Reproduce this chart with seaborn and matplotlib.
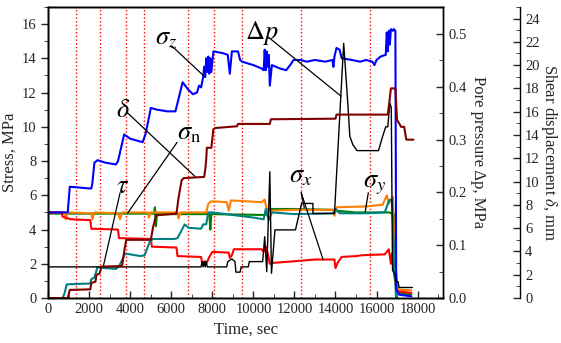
import matplotlib
matplotlib.use('Agg')
import matplotlib.pyplot as plt
import seaborn as sns
import pandas as pd
from matplotlib.ticker import MultipleLocator

# --- data (time in sec) ---
t_sz = [0, 950, 1050, 2000, 2100, 2150, 2250, 2400, 2800, 3300, 3400, 3700, 4000, 4600, 4750, 5000, 5300, 5800,
        6200, 6550, 6800, 7050, 7250, 7350, 7450, 7550, 7600, 7650, 7700, 7750, 7800, 7850, 7900, 7950, 8050, 8500,
        8750, 8850, 8950, 9250, 9350, 9450, 10000, 10400, 10500, 10550, 10600, 10650, 10700, 10750, 10800, 10900,
        11300, 11600, 11850, 11950, 12300, 12600, 13000, 13500, 13850, 13900, 13950, 14050, 14200, 14300, 14800,
        15200, 15500, 15800, 15900, 16000, 16200, 16450, 16500, 16550, 16600, 16650, 16700, 16800, 16850, 16920,
        16960, 17100, 17700]
sz = [5.0, 5.0, 6.5, 6.4, 6.4, 6.7, 7.9, 8.05, 7.9, 7.8, 8.0, 9.55, 9.3, 9.1, 9.6, 11.1, 11.0, 10.9,
      10.9, 12.6, 12.2, 11.9, 12.0, 12.4, 12.3, 12.9, 13.5, 12.9, 14.0, 13.2, 14.1, 13.1, 14.0, 13.2, 14.4, 14.3,
      14.2, 13.1, 14.4, 14.4, 13.9, 13.8, 13.6, 13.4, 13.3, 14.5, 13.3, 14.4, 13.5, 14.2, 12.4, 13.6,
      13.4, 13.3, 13.7, 13.9, 13.9, 13.8, 13.9, 13.8, 13.9, 13.5, 14.1, 14.6, 14.5, 14.0, 13.9,
      13.8, 13.9, 13.8, 13.6, 13.9, 14.1, 14.2, 15.5, 14.4, 15.6, 14.8, 15.7, 15.6, 15.7, 15.6,
      0.5, 0.2, 0.1]

t_sx = [0, 650, 700, 1100, 2050, 2100, 3400, 3450, 5000, 5050, 6250, 6300, 7450, 7500, 7650, 7700, 7850, 8000,
        8800, 8850, 8950, 9050, 10400, 10500, 10600, 10700, 10800, 10900, 12000, 13000, 13950, 14000, 14100,
        14300, 15000, 15300, 16400, 16600, 16700, 16750, 16900, 17000, 17700]
sx = [5.0, 5.0, 4.75, 4.6, 4.55, 4.05, 4.0, 3.5, 3.45, 3.0, 2.95, 2.45, 2.4, 2.05, 2.15, 2.0, 2.4, 2.7,
      2.65, 2.35, 2.5, 2.85, 2.85, 2.7, 3.0, 2.6, 2.0, 2.05, 2.15, 2.25, 2.25, 1.75, 2.05,
      2.4, 2.45, 2.5, 2.55, 2.85, 2.0, 2.6, 1.0, 0.4, 0.3]

t_sy = [0, 800, 850, 950, 2100, 2150, 2250, 3400, 3500, 3600, 4850, 4900, 5000, 6300, 6350, 6450, 7700, 7800,
        7950, 8700, 8800, 8900, 10400, 10550, 10650, 10800, 12000, 13900, 13950, 14050, 15500, 16300, 16500,
        16600, 16800, 16900, 17000, 17700]
sy = [5.0, 5.0, 4.6, 5.0, 4.95, 4.6, 5.0, 4.95, 4.6, 5.0, 5.0, 4.7, 5.0, 5.0, 4.65, 5.0, 5.0, 5.5,
      5.65, 5.6, 5.1, 5.7, 5.6, 5.75, 5.15, 5.1, 5.15, 5.15, 4.8, 5.3, 5.35, 5.45, 6.0,
      5.5, 5.9, 2.0, 0.5, 0.45]

t_sn = [0, 5150, 5200, 5250, 5300, 7850, 7900, 7950, 10600, 10700, 12000, 13900, 14000, 15000, 16600, 16850,
        16950, 17050, 17700]
sn = [4.93, 4.93, 5.3, 4.2, 4.9, 4.9, 4.0, 4.9, 4.85, 5.2, 5.2, 5.15, 5.1, 5.0, 5.0, 4.9, 1.5, 0.3, 0.2]

t_tau = [0, 700, 800, 900, 2050, 2100, 2250, 2400, 2800, 3300, 3450, 3750, 4000, 4500, 4700, 4950, 5100, 6150,
         6300, 6650, 6850, 7450, 7550, 7700, 7800, 8000, 9000, 10000, 10500, 10600, 10750, 10900, 12000, 13900,
         14000, 14200, 15500, 16400, 16550, 16650, 16750, 16850, 16950, 17000]
tau = [0.0, 0.0, 0.3, 0.8, 0.85, 1.1, 1.2, 1.8, 1.75, 1.7, 1.85, 2.6, 2.55, 2.45, 2.5, 3.3, 3.45, 3.45,
       3.5, 4.3, 4.1, 4.05, 4.3, 4.3, 5.0, 5.0, 4.85, 4.7, 4.6, 5.2, 4.55, 5.0, 4.9, 4.95,
       5.2, 4.95, 4.95, 5.0, 5.5, 5.75, 5.7, 3.0, 0.0, 0.0]

t_dp = [0, 7450, 7500, 7550, 7600, 7650, 7700, 7750, 8700, 8750, 8950, 9100, 9150, 9350, 9400, 9750, 9800,
        10450, 10550, 10650, 10800, 10880, 11050, 12050, 12350, 12900, 12900, 13950, 14400, 14600, 14700, 14850,
        15050, 16100, 16200, 16300, 16450, 16550, 16650, 16720, 16780, 16900, 16950, 17050, 17100, 17750]
dp = [0.059, 0.059, 0.069, 0.059, 0.069, 0.059, 0.069, 0.059, 0.059, 0.069, 0.074, 0.069, 0.049, 0.049, 0.059,
      0.059, 0.069, 0.069, 0.116, 0.05, 0.239, 0.047, 0.129, 0.129, 0.179, 0.179, 0.16, 0.16, 0.482, 0.369,
      0.306, 0.29, 0.279, 0.279, 0.293, 0.306, 0.324, 0.324, 0.369, 0.36, 0.053, 0.044, 0.031, 0.031, 0.02, 0.02]

t_del = [0, 950, 1050, 2050, 2100, 2300, 2350, 2500, 2600, 3600, 3700, 3800, 5000, 5100, 5250, 6250, 6350,
         6500, 6600, 7600, 7650, 7700, 7730, 7950, 8050, 8150, 9200, 9250, 10800, 10850, 14000, 14050, 16550,
         16650, 16700, 16920, 17000, 17200, 17350, 17450, 17800]
delta = [0, 0, 0.7, 0.75, 1.3, 1.4, 2.0, 2.1, 2.7, 2.75, 4.0, 5.0, 5.0, 6.0, 7.1, 7.25, 8.6,
         10.1, 10.3, 10.4, 11.0, 11.9, 12.9, 12.9, 14.5, 14.6, 14.75, 14.95, 14.95, 15.35, 15.4, 15.75, 15.75,
         17.2, 18.0, 18.0, 15.3, 14.7, 14.7, 13.6, 13.6]

stage_times = [0, 1350, 2520, 3790, 4670, 6810, 8080, 9450, 12330, 15690]

sns.set_style('ticks')
plt.rcParams['font.family'] = ['Liberation Serif', 'DejaVu Serif']
plt.rcParams['mathtext.fontset'] = 'stix'

fig = plt.figure(figsize=(5.61, 3.43), dpi=100)
ax = fig.add_axes([0.086, 0.131, 0.704, 0.849])
ax2 = ax.twinx()
ax3 = ax.twinx()
ax3.spines['right'].set_position(('axes', 1.195))

for st in stage_times:
    ax.axvline(st, color='red', linestyle=':', linewidth=1.0, zorder=1)

# drawing order as in the picture: green under orange, teal and blue on top
stress = [(t_sn, sn, 'green'), (t_sy, sy, '#FF8000'), (t_sx, sx, 'red'),
          (t_tau, tau, 'teal'), (t_sz, sz, 'blue')]
for tt, vv, col in stress:
    sns.lineplot(x=tt, y=vv, ax=ax, color=col, linewidth=1.5, estimator=None, sort=False)
sns.lineplot(x=t_del, y=delta, ax=ax3, color='#800000', linewidth=1.5, estimator=None, sort=False)
sns.lineplot(x=t_dp, y=dp, ax=ax2, color='black', linewidth=1.0, estimator=None, sort=False)

ax.set_xlim(0, 19250)
ax.set_ylim(0, 17)
ax2.set_ylim(0, 0.551)
ax3.set_ylim(0, 25)

ax.xaxis.set_major_locator(MultipleLocator(2000))
ax.xaxis.set_minor_locator(MultipleLocator(1000))
ax.yaxis.set_major_locator(MultipleLocator(2))
ax.yaxis.set_minor_locator(MultipleLocator(1))
ax2.yaxis.set_major_locator(MultipleLocator(0.1))
ax2.yaxis.set_minor_locator(MultipleLocator(0.05))
ax3.yaxis.set_major_locator(MultipleLocator(2))
ax3.yaxis.set_minor_locator(MultipleLocator(1))
ax2.yaxis.set_major_formatter(matplotlib.ticker.FormatStrFormatter('%.1f'))

ax.tick_params(axis='x', direction='in', labelsize=10.5, length=5, width=1)
ax.tick_params(axis='x', which='minor', direction='in', length=3)
ax.tick_params(axis='y', direction='out', labelsize=10.5, length=5, width=1)
ax.tick_params(axis='y', which='minor', direction='out', length=3)
for a in (ax2, ax3):
    a.tick_params(axis='y', direction='in', labelsize=10.5, length=5, width=1)
    a.tick_params(axis='y', which='minor', direction='in', length=3)

for a in (ax, ax2, ax3):
    for sp in a.spines.values():
        sp.set_linewidth(1.0)
        sp.set_color('black')

ax.set_xlabel('Time, sec', fontsize=12, labelpad=4)
ax.set_ylabel('Stress, MPa', fontsize=12, labelpad=3)
ax2.set_ylabel('Pore pressure \u0394p, MPa', fontsize=12, rotation=270, labelpad=14)
ax3.set_ylabel('Shear displacement $\\mathit{\\delta}$, mm', fontsize=12, rotation=270, labelpad=14)

# labels with leader lines (stress-axis coordinates)
lbl = dict(fontsize=19, color='black')
ax.text(5200, 14.83, r'$\sigma_z$', **lbl)
ax.text(9600, 15.12, r'$\mathit{\Delta p}$', **lbl)
ax.text(3300, 10.55, r'$\delta$', **lbl)
ax.text(6290, 9.26, r'$\sigma_\mathrm{n}$', **lbl)
ax.text(3300, 6.15, r'$\tau$', **lbl)
ax.text(11740, 6.74, r'$\sigma_x$', **lbl)
ax.text(15350, 6.45, r'$\sigma_y$', **lbl)

leaders = [((6030, 7600), (14.71, 12.95)), ((10720, 14280), (15.24, 11.78)),
           ((3840, 7160), (10.84, 7.09)), ((6280, 3870), (9.09, 4.96)),
           ((3500, 2680), (6.14, 1.83)), ((12330, 13400), (6.15, 2.23)),
           ((12330, 12480), (6.15, 5.28)), ((15600, 15450), (6.15, 5.04))]
for xs, ys in leaders:
    ax.plot(xs, ys, color='black', linewidth=0.9, zorder=5)

fig.savefig('out.png', dpi=100)
